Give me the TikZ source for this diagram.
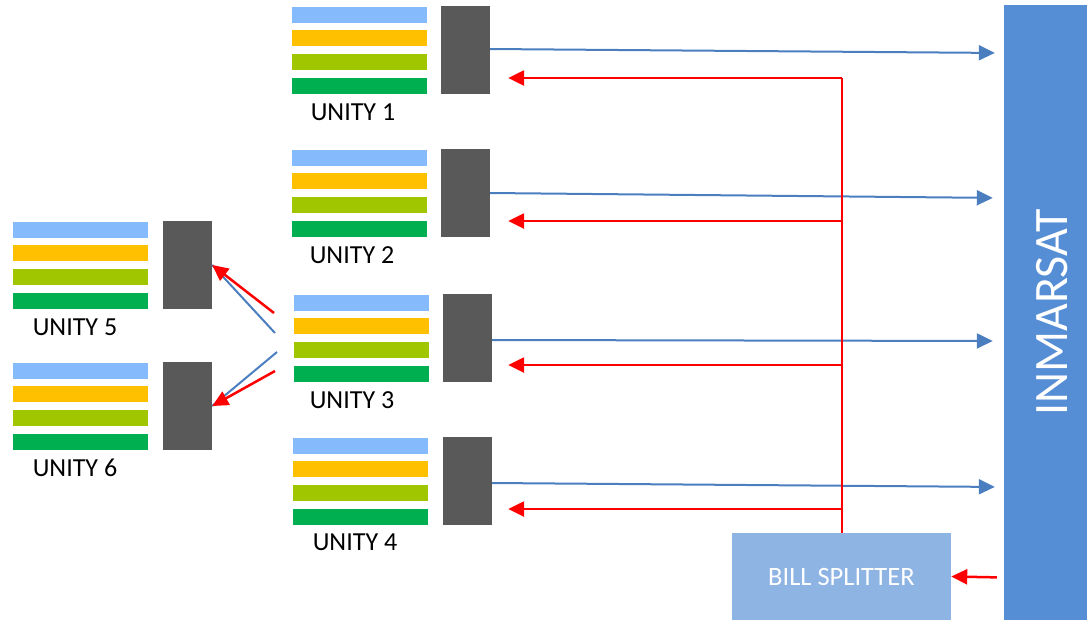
\documentclass[tikz,border=0pt]{standalone}
\usepackage{fontspec}
\setmainfont{Carlito}
\usepackage{tikz}
\usetikzlibrary{arrows.meta}

\definecolor{skyband}{HTML}{85BBFD}
\definecolor{amberband}{HTML}{FFC000}
\definecolor{limeband}{HTML}{A0C600}
\definecolor{greenband}{HTML}{00B050}
\definecolor{modemgray}{HTML}{595959}
\definecolor{satblue}{HTML}{558ED5}
\definecolor{splitblue}{HTML}{8EB4E3}
\definecolor{linkblue}{HTML}{4A7EBF}

\begin{document}
\begin{tikzpicture}
  [x=1pt,y=-1pt,
   band/.style={rectangle,minimum width=135pt,minimum height=16pt,inner sep=0pt},
   sky/.style={band,fill=skyband},
   amber/.style={band,fill=amberband},
   lime/.style={band,fill=limeband},
   grass/.style={band,fill=greenband},
   modem/.style={rectangle,fill=modemgray,minimum width=49pt,minimum height=88pt,inner sep=0pt},
   tag/.style={inner sep=0pt,font=\fontsize{26}{30}\selectfont},
   sat/.style={rectangle,fill=satblue,minimum width=96pt,minimum height=615pt,inner sep=0pt},
   splitter/.style={rectangle,fill=splitblue,minimum width=219pt,minimum height=87pt,inner sep=0pt,
       text=white,font=\fontsize{26.5}{30}\selectfont},
   uplink/.style={linkblue,line width=2pt,-{Triangle[length=16pt,width=15pt]}},
   relay/.style={linkblue,line width=2pt},
   bill/.style={red,line width=2pt},
   billarrow/.style={red,line width=2.5pt,-{Triangle[length=16pt,width=15pt]}}]
		\clip (0,0) rectangle (1087,622);
		% unity 1
		\node (U1a) [sky] at (359.5,15) {};
		\node (U1b) [amber] at (359.5,38) {};
		\node (U1c) [lime] at (359.5,62) {};
		\node (U1d) [grass] at (359.5,86) {};
		\node (M1) [modem] at (465.5,50) {};
		\node (T1) [tag] at (353,112) {UNITY 1};
		% unity 2
		\node (U2a) [sky] at (359.5,158) {};
		\node (U2b) [amber] at (359.5,181) {};
		\node (U2c) [lime] at (359.5,205) {};
		\node (U2d) [grass] at (359.5,229) {};
		\node (M2) [modem] at (465.5,193) {};
		\node (T2) [tag] at (352,255) {UNITY 2};
		% unity 3
		\node (U3a) [sky] at (361.5,303) {};
		\node (U3b) [amber] at (361.5,326) {};
		\node (U3c) [lime] at (361.5,350) {};
		\node (U3d) [grass] at (361.5,374) {};
		\node (M3) [modem] at (467.5,338) {};
		\node (T3) [tag] at (352,400) {UNITY 3};
		% unity 4
		\node (U4a) [sky] at (360.5,446) {};
		\node (U4b) [amber] at (360.5,469) {};
		\node (U4c) [lime] at (360.5,493) {};
		\node (U4d) [grass] at (360.5,517) {};
		\node (M4) [modem] at (467.5,481) {};
		\node (T4) [tag] at (355,542) {UNITY 4};
		% unity 5
		\node (U5a) [sky] at (80.5,230) {};
		\node (U5b) [amber] at (80.5,253) {};
		\node (U5c) [lime] at (80.5,277) {};
		\node (U5d) [grass] at (80.5,301) {};
		\node (M5) [modem] at (187.5,265) {};
		\node (T5) [tag] at (75,327) {UNITY 5};
		% unity 6
		\node (U6a) [sky] at (80.5,371) {};
		\node (U6b) [amber] at (80.5,394) {};
		\node (U6c) [lime] at (80.5,418) {};
		\node (U6d) [grass] at (80.5,442) {};
		\node (M6) [modem] at (187.5,406) {};
		\node (T6) [tag] at (75,468) {UNITY 6};
		% satellite and splitter
		\node (IN) [sat] at (1052,312.5) {};
		\node (INtext) [text=white,font=\fontsize{48}{52}\selectfont,rotate=90,inner sep=0pt] at (IN.center) {INMARSAT};
		\node (BS) [splitter] at (841.5,576.5) {BILL SPLITTER};
		% uplinks
		\draw [uplink,shorten >=9pt] ([yshift=1pt]M1.east) -- ([yshift=-3pt]M1.east -| IN.west);
		\draw [uplink,shorten >=11pt] (M2.east) -- ([yshift=-5pt]M2.east -| IN.west);
		\draw [uplink,shorten >=11pt] ([yshift=-2pt]M3.east) -- ([yshift=-3pt]M3.east -| IN.west);
		\draw [uplink,shorten >=9pt] ([yshift=-2pt]M4.east) -- ([yshift=-6pt]M4.east -| IN.west);
		% billing back to the unities
		\draw [billarrow,shorten <=7pt] ([yshift=-1pt]BS.east -| IN.west) -- (BS.east);
		\draw [bill] (BS.north) -- ([yshift=-28pt]M1.east -| BS.north);
		\draw [billarrow,shorten >=18pt] ([yshift=-28pt]M1.east -| BS.north) -- ([yshift=-28pt]M1.east);
		\draw [billarrow,shorten >=18pt] ([yshift=-28pt]M2.east -| BS.north) -- ([yshift=-28pt]M2.east);
		\draw [billarrow,shorten >=16pt] ([yshift=-27pt]M3.east -| BS.north) -- ([yshift=-27pt]M3.east);
		\draw [billarrow,shorten >=16pt] ([yshift=-28pt]M4.east -| BS.north) -- ([yshift=-28pt]M4.east);
		% unity 3 relays to unity 5 and 6
		\coordinate (R5) at (274,313);
		\coordinate (L5) at (275,333);
		\coordinate (L6) at (277,352);
		\coordinate (R6) at (275,371);
		\draw [relay] (L5) -- (M5.east);
		\draw [relay] (L6) -- (M6.east);
		\draw [billarrow] (R5) -- (M5.east);
		\draw [billarrow] (R6) -- (M6.east);
\end{tikzpicture}
\end{document}
